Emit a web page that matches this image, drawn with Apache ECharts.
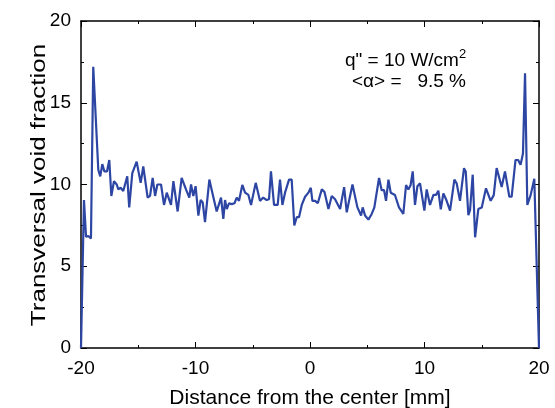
<!DOCTYPE html>
<html><head><meta charset="utf-8">
<script src="https://cdn.jsdelivr.net/npm/echarts@6/dist/echarts.min.js"></script>
<style>html,body{margin:0;padding:0;background:#fff}#c{width:555px;height:408px}</style>
</head><body><div id="c"></div>
<script>
const distance = [
-20.0,-19.74,-19.56,-19.36,-19.13,-18.93,-18.49,-18.32,-18.14,-17.96,-17.73,-17.53,-17.35,-17.12,-16.88,-16.74,-16.54,-16.31,-15.96,-15.79,
-15.52,-15.35,-15.14,-14.79,-14.56,-14.18,-13.97,-13.74,-13.53,-13.33,-13.01,-12.75,-12.51,-12.37,-12.14,-11.93,-11.56,-11.21,-10.83,-10.54,
-10.39,-10.19,-9.99,-9.75,-9.55,-9.37,-9.17,-8.79,-8.50,-8.15,-7.77,-7.57,-7.42,-7.27,-7.07,-6.84,-6.6,-6.4,-6.2,-5.91,
-5.67,-5.38,-5.15,-4.74,-4.57,-4.37,-4.08,-3.79,-3.58,-3.41,-3.14,-2.82,-2.62,-2.41,-2.18,-2.04,-1.83,-1.6,-1.37,-1.16,
-0.96,-0.72,-0.43,-0.14,0.07,0.21,0.45,0.68,1.03,1.26,1.61,1.90,2.19,2.63,2.98,3.21,3.44,3.71,3.88,4.14,
4.46,4.6,4.81,5.1,5.39,5.62,6.03,6.26,6.47,6.64,6.85,7.05,7.42,7.77,8.15,8.39,8.59,8.79,8.97,9.17,
9.38,9.61,9.99,10.19,10.48,10.78,11.01,11.21,11.42,11.65,11.88,12.23,12.61,12.81,13.1,13.25,13.45,13.6,13.83,13.98,
14.21,14.42,14.7,15.0,15.14,15.37,15.78,16.05,16.3,16.74,17.03,17.41,17.61,17.95,18.18,18.39,18.6,18.78,18.98,19.27,
19.59,20.0
];
const voidFraction = [
0.0,9.05,6.8,6.85,6.7,17.2,10.9,10.5,11.25,10.8,10.8,11.5,9.3,10.2,10.0,9.7,9.8,9.6,10.5,8.6,
10.7,10.7,11.4,10.1,11.1,9.2,9.3,10.4,9.3,10.0,10.0,8.75,9.5,9.5,8.75,10.2,8.35,10.4,9.7,9.2,
10.0,9.3,9.9,8.1,9.05,8.9,7.7,10.3,9.4,8.35,9.2,7.9,9.05,8.5,8.85,8.8,8.85,9.2,9.0,9.97,
9.5,9.36,8.75,10.1,10.0,9.0,9.2,9.05,9.1,10.8,8.75,8.75,10.3,8.75,9.5,9.5,10.3,10.3,7.5,8.0,
8.0,8.75,9.25,9.5,9.8,9.0,9.0,8.85,9.7,9.55,8.5,9.3,9.1,8.5,9.84,8.3,9.1,10.0,10.0,8.6,
8.1,8.6,8.1,7.85,8.2,8.6,10.4,9.65,9.65,9.0,10.3,9.5,9.36,8.6,8.2,9.97,9.7,9.97,10.8,8.75,
9.9,10.07,8.4,9.7,8.75,9.36,9.36,9.62,8.48,9.46,9.1,8.4,10.3,10.07,9.0,9.0,11.0,10.8,8.13,8.45,
10.6,6.77,8.5,8.6,8.6,9.77,9.0,9.35,11.0,9.85,10.8,9.25,9.25,11.5,11.5,11.2,11.9,16.8,8.75,9.35,
10.35,0.0
];
const xTicks = [-20,-10,0,10,20];
const yTicks = [0,5,10,15,20];
const xTitle = 'Distance from the center [mm]';
const yTitle = 'Transversal void fraction';
const noteLine1 = 'q" = 10 W/cm';
const noteLine2 = '<α> =   9.5 %';

const font = 'Liberation Sans, Arial, Helvetica, sans-serif';
const tickCommon = {show:true, inside:true, length:6, lineStyle:{color:'#000', width:1}};
const minorCommon = {show:true, splitNumber:2, length:3, lineStyle:{color:'#000', width:1}};
const lineCommon = {show:true, onZero:false, lineStyle:{color:'#000', width:1.5}};

const chart = echarts.init(document.getElementById('c'), null, {renderer:'canvas'});
chart.setOption({
  animation:false,
  backgroundColor:'#fff',
  grid:{left:81, right:16, top:21, bottom:60, containLabel:false, outerBoundsMode:'none'},
  xAxis:[
    {type:'value', min:-20, max:20, interval:10, position:'bottom',
     axisLine:lineCommon, axisTick:tickCommon, minorTick:minorCommon, splitLine:{show:false},
     axisLabel:{color:'#000', fontSize:19, fontFamily:font, margin:11},
     name:xTitle, nameLocation:'middle', nameGap:40,
     nameTextStyle:{color:'#000', fontSize:21, fontFamily:font}},
    {type:'value', min:-20, max:20, interval:10, position:'top',
     axisLine:lineCommon, axisTick:tickCommon, minorTick:minorCommon, splitLine:{show:false},
     axisLabel:{show:false}}
  ],
  yAxis:[
    {type:'value', min:0, max:20, interval:5, position:'left',
     axisLine:lineCommon, axisTick:tickCommon, minorTick:minorCommon, splitLine:{show:false},
     axisLabel:{color:'#000', fontSize:19, fontFamily:font, margin:10}},
    {type:'value', min:0, max:20, interval:5, position:'right',
     axisLine:lineCommon, axisTick:tickCommon, minorTick:minorCommon, splitLine:{show:false},
     axisLabel:{show:false}}
  ],
  series:[{
    type:'line', xAxisIndex:0, yAxisIndex:0,
    data: distance.map((d,i)=>[d, voidFraction[i]]),
    showSymbol:false, symbol:'none',
    lineStyle:{color:'#2d46a4', width:2.2},
    itemStyle:{color:'#2d46a4'}
  }],
  graphic:[
    {type:'text', x:39, y:185, rotation:Math.PI/2, scaleX:1.3,
     style:{text:yTitle, fontSize:20, fontFamily:font, fill:'#000', align:'center', verticalAlign:'middle'}},
    {type:'text', left:345, top:48,
     style:{text:'{a|' + noteLine1 + '}{s|2}', rich:{
       a:{fontSize:19, fontFamily:font, fill:'#000'},
       s:{fontSize:13, fontFamily:font, fill:'#000', verticalAlign:'top', padding:[0,0,12,0]}
     }}},
    {type:'text', left:352, top:72,
     style:{text:noteLine2, fontSize:19, fontFamily:font, fill:'#000'}}
  ]
});
</script></body></html>
